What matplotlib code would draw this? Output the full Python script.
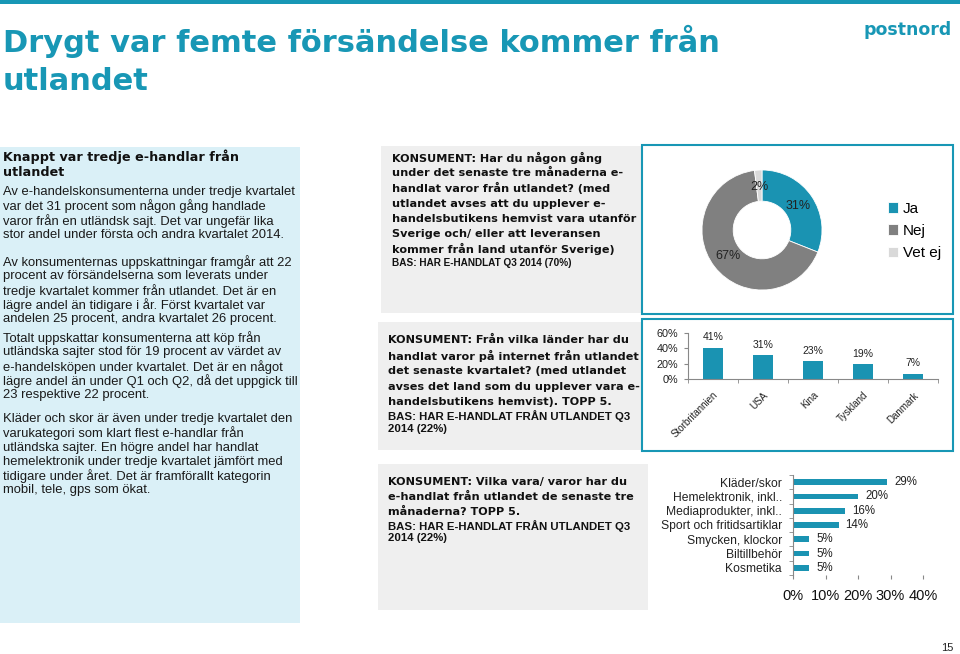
import matplotlib.pyplot as plt
from matplotlib.patches import Rectangle
from matplotlib.ticker import FuncFormatter

plt.rcParams['font.family'] = ['Liberation Sans', 'DejaVu Sans']

# chart data
pie_labels = ['Ja', 'Nej', 'Vet ej']
pie_values = [31, 67, 2]
countries = ['Storbritannien', 'USA', 'Kina', 'Tyskland', 'Danmark']
country_values = [41, 31, 23, 19, 7]
goods = ['Kläder/skor', 'Hemelektronik, inkl..', 'Mediaprodukter, inkl..',
         'Sport och fritidsartiklar', 'Smycken, klockor', 'Biltillbehör', 'Kosmetika']
goods_values = [29, 20, 16, 14, 5, 5, 5]

# slide texts
title_lines = ['Drygt var femte försändelse kommer från', 'utlandet']
side_header = ['Knappt var tredje e-handlar från', 'utlandet']
side_paragraphs = [
    ['Av e-handelskonsumenterna under tredje kvartalet',
     'var det 31 procent som någon gång handlade',
     'varor från en utländsk sajt. Det var ungefär lika',
     'stor andel under första och andra kvartalet 2014.'],
    ['Av konsumenternas uppskattningar framgår att 22',
     'procent av försändelserna som leverats under',
     'tredje kvartalet kommer från utlandet. Det är en',
     'lägre andel än tidigare i år. Först kvartalet var',
     'andelen 25 procent, andra kvartalet 26 procent.'],
    ['Totalt uppskattar konsumenterna att köp från',
     'utländska sajter stod för 19 procent av värdet av',
     'e-handelsköpen under kvartalet. Det är en något',
     'lägre andel än under Q1 och Q2, då det uppgick till',
     '23 respektive 22 procent.'],
    ['Kläder och skor är även under tredje kvartalet den',
     'varukategori som klart flest e-handlar från',
     'utländska sajter. En högre andel har handlat',
     'hemelektronik under tredje kvartalet jämfört med',
     'tidigare under året. Det är framförallt kategorin',
     'mobil, tele, gps som ökat.'],
]
q1_lines = ['KONSUMENT: Har du någon gång',
            'under det senaste tre månaderna e-',
            'handlat varor från utlandet? (med',
            'utlandet avses att du upplever e-',
            'handelsbutikens hemvist vara utanför',
            'Sverige och/ eller att leveransen',
            'kommer från land utanför Sverige)']
q1_bas = ['BAS: HAR E-HANDLAT Q3 2014 (70%)']
q2_lines = ['KONSUMENT: Från vilka länder har du',
            'handlat varor på internet från utlandet',
            'det senaste kvartalet? (med utlandet',
            'avses det land som du upplever vara e-',
            'handelsbutikens hemvist). TOPP 5.']
q2_bas = ['BAS: HAR E-HANDLAT FRÅN UTLANDET Q3', '2014 (22%)']
q3_lines = ['KONSUMENT: Vilka vara/ varor har du',
            'e-handlat från utlandet de senaste tre',
            'månaderna? TOPP 5.']
q3_bas = ['BAS: HAR E-HANDLAT FRÅN UTLANDET Q3', '2014 (22%)']

TEAL = '#1897b5'
BAR = '#1a93b2'
W, H = 960, 654

fig = plt.figure(figsize=(9.6, 6.54), dpi=100)


def px_rect(x0, y0, x1, y1, **kw):
    fig.add_artist(Rectangle((x0 / W, 1 - y1 / H), (x1 - x0) / W, (y1 - y0) / H,
                             transform=fig.transFigure, zorder=-1, **kw))


def px_text(x, y, s, **kw):
    fig.text(x / W, 1 - y / H, s, **kw)


def px_axes(x0, y0, x1, y1):
    ax = fig.add_axes([x0 / W, 1 - y1 / H, (x1 - x0) / W, (y1 - y0) / H])
    ax.patch.set_alpha(0)
    return ax


def px_lines(x, y, lines, step, **kw):
    for i, s in enumerate(lines):
        px_text(x, y + i * step, s, va='center', **kw)


# header
px_rect(0, 0, 960, 4, facecolor=TEAL, edgecolor='none')
px_lines(3, 41, title_lines, 40, fontsize=22, fontweight='bold', color=TEAL,
         family='DejaVu Sans')
px_text(908, 30, 'postnord', fontsize=12.5, fontweight='bold', color=TEAL,
        ha='center', va='center', family='DejaVu Sans')

# left info panel
px_rect(0, 147, 300, 623, facecolor='#daf0f7', edgecolor='none')
px_lines(3, 157, side_header, 15.5, fontsize=9.2, fontweight='bold', color='#111111',
         family='DejaVu Sans')
for y0, para in zip([192, 262, 338, 419], side_paragraphs):
    px_lines(3, y0, para, 14.3, fontsize=9.4, color='#1a1a1a')

# question boxes
bold_box = dict(fontsize=8.1, fontweight='bold', color='#111111', family='DejaVu Sans')
bas_box = dict(fontweight='bold', color='#111111')
px_rect(381, 146, 642, 313, facecolor='#efefef', edgecolor='none')
px_rect(378, 322, 642, 450, facecolor='#efefef', edgecolor='none')
px_rect(378, 464, 648, 610, facecolor='#efefef', edgecolor='none')
px_lines(392, 158, q1_lines, 15.2, **bold_box)
px_lines(392, 263, q1_bas, 12, fontsize=7.2, **bas_box)
px_lines(388, 340, q2_lines, 15.5, **bold_box)
px_lines(388, 416, q2_bas, 12.5, fontsize=8.2, **bas_box)
px_lines(388, 482, q3_lines, 15, **bold_box)
px_lines(388, 526, q3_bas, 12, fontsize=8.2, **bas_box)

# chart frames
px_rect(642, 145, 953, 314, facecolor='white', edgecolor=TEAL, linewidth=1.5)
px_rect(642, 319, 953, 451, facecolor='white', edgecolor=TEAL, linewidth=1.5)

# donut
ax_pie = px_axes(697, 165, 827, 295)
wedges, _, autotexts = ax_pie.pie(
    pie_values, colors=[BAR, '#808080', '#d9d9d9'], startangle=90, counterclock=False,
    radius=1, wedgeprops=dict(width=0.52, edgecolor='white', linewidth=0.6),
    autopct=lambda p: f'{p:.0f}%', pctdistance=0.72,
    textprops=dict(fontsize=9, color='#222222'))
ax_pie.set_xlim(-1.083, 1.083)
ax_pie.set_ylim(-1.083, 1.083)
ax_pie.set_aspect('equal')
ax_pie.legend(wedges, pie_labels, loc='center left', bbox_to_anchor=(874 / W, 1 - 231 / H),
              bbox_transform=fig.transFigure, frameon=False, fontsize=11,
              handlelength=0.7, handleheight=0.7, handletextpad=0.3, labelspacing=0.55)

# countries column chart
ax_c = px_axes(688, 333, 938, 379)
xs = range(len(countries))
bars = ax_c.bar(xs, country_values, width=0.4, color=BAR)
ax_c.bar_label(bars, labels=[f'{v}%' for v in country_values], padding=4,
               fontsize=7.5, color='#222222')
ax_c.set_xlim(-0.5, len(countries) - 0.5)
ax_c.set_ylim(0, 60)
ax_c.set_yticks([0, 20, 40, 60])
ax_c.yaxis.set_major_formatter(FuncFormatter(lambda v, p: f'{v:.0f}%'))
ax_c.set_xticks(list(xs))
ax_c.set_xticklabels(countries, rotation=45, ha='right', va='top',
                     rotation_mode='anchor', fontsize=7, color='#222222')
ax_c.set_xticks([i - 0.5 for i in range(len(countries) + 1)], minor=True)
ax_c.tick_params(axis='x', which='major', length=0, pad=8)
ax_c.tick_params(axis='x', which='minor', length=3, color='#888888')
ax_c.tick_params(axis='y', length=3, color='#888888', labelsize=7.8,
                 labelcolor='#222222', pad=4)
for s in ['top', 'right']:
    ax_c.spines[s].set_visible(False)
for s in ['left', 'bottom']:
    ax_c.spines[s].set_color('#888888')
    ax_c.spines[s].set_linewidth(0.8)

# goods bar chart
ax_g = px_axes(793, 475, 923, 575)
ys = range(len(goods))
hb = ax_g.barh(ys, goods_values, height=0.4, color=BAR)
ax_g.bar_label(hb, labels=[f'{v}%' for v in goods_values], padding=5,
               fontsize=8.3, color='#222222')
ax_g.set_ylim(len(goods) - 0.5, -0.5)
ax_g.set_xlim(0, 40)
ax_g.set_yticks(list(ys))
ax_g.set_yticklabels(goods, fontsize=8.7, color='#222222')
ax_g.set_yticks([i - 0.5 for i in range(len(goods) + 1)], minor=True)
ax_g.set_xticks([0, 10, 20, 30, 40])
ax_g.xaxis.set_major_formatter(FuncFormatter(lambda v, p: f'{v:.0f}%'))
ax_g.tick_params(axis='y', which='major', length=0, pad=8)
ax_g.tick_params(axis='y', which='minor', length=3, color='#888888')
ax_g.tick_params(axis='x', length=3, color='#888888', labelsize=10.5,
                 labelcolor='#111111', pad=7)
for s in ['top', 'right', 'bottom']:
    ax_g.spines[s].set_visible(False)
ax_g.spines['left'].set_color('#888888')
ax_g.spines['left'].set_linewidth(0.8)

# page number
px_text(947, 648, '15', fontsize=8, color='#222222', ha='center', va='center')

fig.savefig('out.png', dpi=100)
